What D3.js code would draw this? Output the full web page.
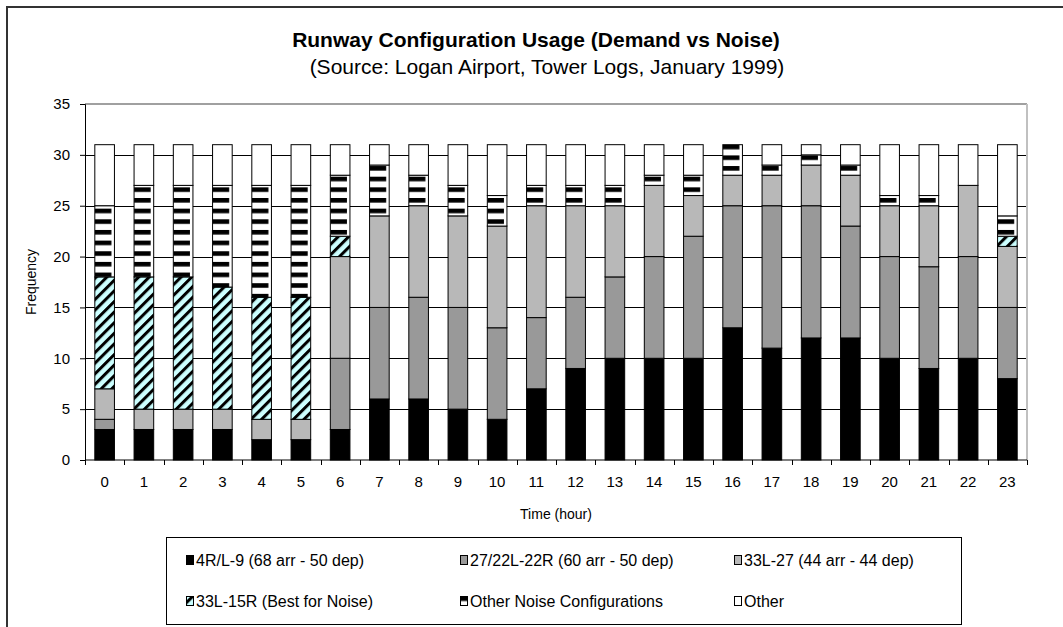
<!DOCTYPE html>
<html>
<head>
<meta charset="utf-8">
<title>Runway Configuration Usage</title>
<script src="https://d3js.org/d3.v7.min.js"></script>
<style>
  body { margin: 0; background: #fff; }
  text { font-family: "Liberation Sans", Arial, sans-serif; fill: #000; }
</style>
</head>
<body>
<div id="chart"></div>
<script>
// hours of the day
const hours = d3.range(0, 24).map(String);

// frequency (days in January 1999) per configuration, by hour
const rwy4R9      = [3, 3, 3, 3, 2, 2, 3, 6, 6, 5, 4, 7, 9, 10, 10, 10, 13, 11, 12, 12, 10, 9, 10, 8];
const rwy27_22    = [1, 0, 0, 0, 0, 0, 7, 9, 10, 10, 9, 7, 7, 8, 10, 12, 12, 14, 13, 11, 10, 10, 10, 7];
const rwy33L27    = [3, 2, 2, 2, 2, 2, 10, 9, 9, 9, 10, 11, 9, 7, 7, 4, 3, 3, 4, 5, 5, 6, 7, 6];
const rwy33L15R   = [11, 13, 13, 12, 12, 12, 2, 0, 0, 0, 0, 0, 0, 0, 0, 0, 0, 0, 0, 0, 0, 0, 0, 1];
const otherNoise  = [7, 9, 9, 10, 11, 11, 6, 5, 3, 3, 3, 2, 2, 2, 1, 2, 3, 1, 1, 1, 1, 1, 0, 2];
const otherConfig = [6, 4, 4, 4, 4, 4, 3, 2, 3, 4, 5, 4, 4, 4, 3, 3, 0, 2, 1, 2, 5, 5, 4, 7];

const seriesNames = [
  "4R/L-9 (68 arr - 50 dep)",
  "27/22L-22R (60 arr - 50 dep)",
  "33L-27 (44 arr - 44 dep)",
  "33L-15R (Best for Noise)",
  "Other Noise Configurations",
  "Other"
];
const yTicks = [0, 5, 10, 15, 20, 25, 30, 35];

const width = 1063, height = 627;
const plot = { left: 85, right: 1027, top: 104, bottom: 460 };

const svg = d3.select("#chart").append("svg")
    .attr("width", width)
    .attr("height", height);

// scales
const x = d3.scaleBand()
    .domain(hours)
    .range([plot.left, plot.right])
    .paddingInner(0.5)
    .paddingOuter(0.25);

const y = d3.scaleLinear()
    .domain([0, 35])
    .range([plot.bottom, plot.top]);

// fill patterns
const defs = svg.append("defs");
const hatch = defs.append("pattern")
    .attr("id", "hatch")
    .attr("patternUnits", "userSpaceOnUse")
    .attr("width", 7.5)
    .attr("height", 7.5)
    .attr("patternTransform", "rotate(-45)");
hatch.append("rect").attr("width", 7.5).attr("height", 7.5).attr("fill", "#ccffff");
hatch.append("rect").attr("width", 7.5).attr("height", 3).attr("fill", "#000");

const stripes = defs.append("pattern")
    .attr("id", "stripes")
    .attr("patternUnits", "userSpaceOnUse")
    .attr("x", x(hours[0]))
    .attr("y", 6.3)
    .attr("width", x.step())
    .attr("height", 10.65);
stripes.append("rect").attr("width", x.step()).attr("height", 10.65).attr("fill", "#fff");
stripes.append("rect").attr("width", x.bandwidth() - 3).attr("height", 4.6).attr("fill", "#000");

// small stripe for the legend key
const keyStripe = defs.append("pattern")
    .attr("id", "keystripe")
    .attr("patternUnits", "objectBoundingBox")
    .attr("width", 1).attr("height", 1);
keyStripe.append("rect").attr("width", 8).attr("height", 9).attr("fill", "#fff");
keyStripe.append("rect").attr("width", 8).attr("height", 4.5).attr("fill", "#000");

const fills = ["#000000", "#999999", "#b8b8b8", "url(#hatch)", "url(#stripes)", "#ffffff"];
const keyFills = ["#000000", "#999999", "#b8b8b8", "url(#hatch)", "url(#keystripe)", "#ffffff"];

// outer chart frame
svg.append("rect")
    .attr("x", 7).attr("y", 7)
    .attr("width", 1100).attr("height", 700)
    .attr("fill", "none")
    .attr("stroke", "#333")
    .attr("stroke-width", 2);

// titles
svg.append("text")
    .attr("x", 536).attr("y", 47)
    .attr("text-anchor", "middle")
    .style("font-size", "21px")
    .style("font-weight", "bold")
    .text("Runway Configuration Usage (Demand vs Noise)");

svg.append("text")
    .attr("x", 547).attr("y", 74)
    .attr("text-anchor", "middle")
    .style("font-size", "21px")
    .text("(Source: Logan Airport, Tower Logs, January 1999)");

// gridlines
svg.append("g")
    .selectAll("line")
    .data(yTicks.filter(d => d > 0 && d < 35))
    .enter().append("line")
    .attr("x1", plot.left).attr("x2", plot.right)
    .attr("y1", d => Math.round(y(d)) + 0.5).attr("y2", d => Math.round(y(d)) + 0.5)
    .attr("stroke", "#000");

// plot area border (top, right)
svg.append("line")
    .attr("x1", plot.left).attr("x2", plot.right)
    .attr("y1", y(35)).attr("y2", y(35))
    .attr("stroke", "#808080").attr("stroke-width", 1.5);
svg.append("line")
    .attr("x1", plot.right).attr("x2", plot.right)
    .attr("y1", y(35)).attr("y2", y(0))
    .attr("stroke", "#c0c0c0").attr("stroke-width", 2);

// stacked bars
const table = hours.map((h, i) => ({
  hour: h,
  s0: rwy4R9[i], s1: rwy27_22[i], s2: rwy33L27[i],
  s3: rwy33L15R[i], s4: otherNoise[i], s5: otherConfig[i]
}));
const stack = d3.stack().keys(["s0", "s1", "s2", "s3", "s4", "s5"])(table);

svg.append("g")
    .selectAll("g")
    .data(stack)
    .enter().append("g")
    .attr("fill", (d, i) => fills[i])
    .selectAll("rect")
    .data(d => d.filter(p => p[1] > p[0]))
    .enter().append("rect")
    .attr("x", d => x(d.data.hour))
    .attr("width", x.bandwidth())
    .attr("y", d => y(d[1]))
    .attr("height", d => y(d[0]) - y(d[1]))
    .attr("stroke", "#000")
    .attr("stroke-width", 1);

// axes
const yAxis = svg.append("g")
    .attr("transform", `translate(${plot.left},0)`)
    .call(d3.axisLeft(y).tickValues(yTicks).tickSize(5).tickPadding(10));
yAxis.selectAll("text").style("font-size", "15px");

const xAxis = svg.append("g")
    .attr("transform", `translate(0,${plot.bottom})`)
    .call(d3.axisBottom(x).tickSize(0).tickPadding(16));
xAxis.selectAll("text").style("font-size", "15px");
xAxis.select(".domain").remove();
svg.append("line")
    .attr("x1", plot.left).attr("x2", plot.right)
    .attr("y1", plot.bottom).attr("y2", plot.bottom)
    .attr("stroke", "#000");
// category separator ticks
svg.append("g")
    .selectAll("line")
    .data(d3.range(0, 25))
    .enter().append("line")
    .attr("x1", i => Math.round(plot.left + i * x.step()) + 0.5)
    .attr("x2", i => Math.round(plot.left + i * x.step()) + 0.5)
    .attr("y1", plot.bottom).attr("y2", plot.bottom + 5)
    .attr("stroke", "#000");

// axis titles
svg.append("text")
    .attr("x", (plot.left + plot.right) / 2).attr("y", 519)
    .attr("text-anchor", "middle")
    .style("font-size", "14px")
    .text("Time (hour)");

svg.append("text")
    .attr("transform", `translate(36,${(plot.top + plot.bottom) / 2}) rotate(-90)`)
    .attr("text-anchor", "middle")
    .style("font-size", "14px")
    .text("Frequency");

// legend
svg.append("rect")
    .attr("x", 166.5).attr("y", 537.5)
    .attr("width", 795).attr("height", 87)
    .attr("fill", "#fff")
    .attr("stroke", "#000");

const legendCols = [186, 460, 734];
const legendRows = [560, 601];
const legend = svg.append("g")
    .selectAll("g")
    .data(seriesNames)
    .enter().append("g")
    .attr("transform", (d, i) => `translate(${legendCols[i % 3]},${legendRows[Math.floor(i / 3)]})`);

legend.append("rect")
    .attr("x", 0.5).attr("y", -4.5)
    .attr("width", 7).attr("height", 9)
    .attr("fill", (d, i) => keyFills[i])
    .attr("stroke", "#000")
    .attr("stroke-width", 1);

legend.append("text")
    .attr("x", 10).attr("y", 6)
    .style("font-size", "16px")
    .text(d => d);
</script>
</body>
</html>
